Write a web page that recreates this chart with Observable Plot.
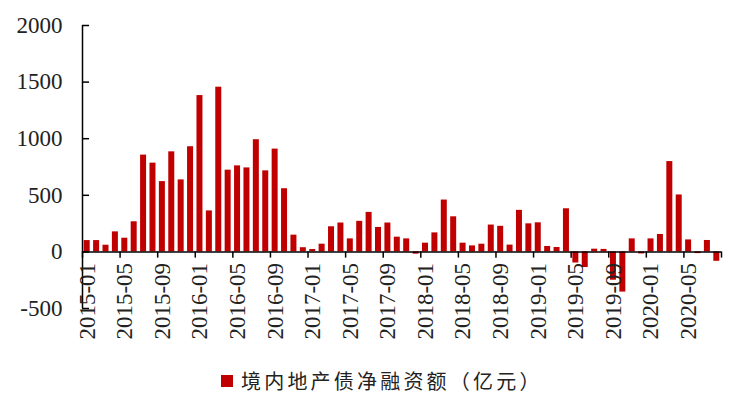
<!DOCTYPE html>
<html>
<head>
<meta charset="utf-8">
<script src="https://cdn.jsdelivr.net/npm/d3@7"></script>
<script src="https://cdn.jsdelivr.net/npm/@observablehq/plot@0.6"></script>
<style>
  html, body { margin: 0; padding: 0; background: #fff; }
  #wrap { position: relative; width: 734px; height: 400px; }
  #legend { position: absolute; left: 221px; top: 366px; display: flex; align-items: center;
    font-family: "Noto Sans CJK SC", sans-serif; font-size: 20px; letter-spacing: 3.2px; color: #222; }
  #legend .sw { width: 12px; height: 12px; background: #C00000; margin-right: 8px; }
  #chart svg text { font-family: "Liberation Serif", serif; }
</style>
</head>
<body>
<div id="wrap">
  <div id="chart"></div>
  <div id="legend"><span class="sw"></span><span>境内地产债净融资额（亿元）</span></div>
</div>
<script>
const months = [
  "2015-01","2015-02","2015-03","2015-04","2015-05","2015-06","2015-07","2015-08","2015-09","2015-10","2015-11","2015-12",
  "2016-01","2016-02","2016-03","2016-04","2016-05","2016-06","2016-07","2016-08","2016-09","2016-10","2016-11","2016-12",
  "2017-01","2017-02","2017-03","2017-04","2017-05","2017-06","2017-07","2017-08","2017-09","2017-10","2017-11","2017-12",
  "2018-01","2018-02","2018-03","2018-04","2018-05","2018-06","2018-07","2018-08","2018-09","2018-10","2018-11","2018-12",
  "2019-01","2019-02","2019-03","2019-04","2019-05","2019-06","2019-07","2019-08","2019-09","2019-10","2019-11","2019-12",
  "2020-01","2020-02","2020-03","2020-04","2020-05","2020-06","2020-07","2020-08"
];
const netFinancing = [
  100, 100, 59, 177, 121, 266, 855, 784, 621, 884, 636, 929,
  1381, 362, 1455, 722, 760, 742, 991, 716, 908, 558, 148, 37,
  21, 68, 222, 255, 115, 270, 349, 216, 255, 130, 115, -20,
  77, 168, 458, 310, 77, 53, 68, 237, 226, 60, 367, 248,
  257, 48, 39, 381, -98, -138, 24, 22, -250, -355, 115, -18,
  115, 154, 798, 503, 106, -15, 101, -83
];
const yTicks = [-500, 0, 500, 1000, 1500, 2000];
const labelEvery = 4;

const data = months.map((m, i) => ({month: m, i, value: netFinancing[i]}));
const labeled = data.filter(d => d.i % labelEvery === 0);
const boundaries = d3.range(0, months.length + 1, labelEvery);

const serif = "Liberation Serif";

const chart = Plot.plot({
  width: 734,
  height: 352,
  marginTop: 25,
  marginBottom: 44,
  marginLeft: 82,
  marginRight: 13,
  style: {fontSize: "23px", color: "#222", background: "#fff"},
  x: {type: "linear", domain: [0, months.length], axis: null},
  y: {domain: [-500, 2000], ticks: yTicks, axis: null},
  marks: [
    Plot.rectY(data, {x1: d => d.i, x2: d => d.i + 1, y: "value", fill: "#C00000", insetLeft: 1.7, insetRight: 1.7}),
    // y axis line
    Plot.ruleX([0], {y1: -500, y2: 2000, stroke: "#000", strokeWidth: 1.5}),
    // inward y ticks
    Plot.ruleY(yTicks, {x1: 0, x2: 0.75, stroke: "#000", strokeWidth: 1.5}),
    // y tick labels
    Plot.text(yTicks, {x: 0, y: d => d, text: d => String(d), textAnchor: "end", dx: -20, fontSize: 23, fontFamily: serif, fill: "#222"}),
    // zero axis line
    Plot.ruleY([0], {x1: 0, x2: months.length, stroke: "#000", strokeWidth: 1.5}),
    // x ticks at category boundaries
    Plot.ruleX(boundaries, {x: d => d, y1: 0, y2: -55, stroke: "#000", strokeWidth: 1.5}),
    // x labels
    Plot.text(labeled, {x: d => d.i + 0.5, y: 0, text: "month", rotate: -90, textAnchor: "end", dy: 11, fontSize: 23, fontFamily: serif, fill: "#222"})
  ]
});
document.getElementById("chart").appendChild(chart);
</script>
</body>
</html>
